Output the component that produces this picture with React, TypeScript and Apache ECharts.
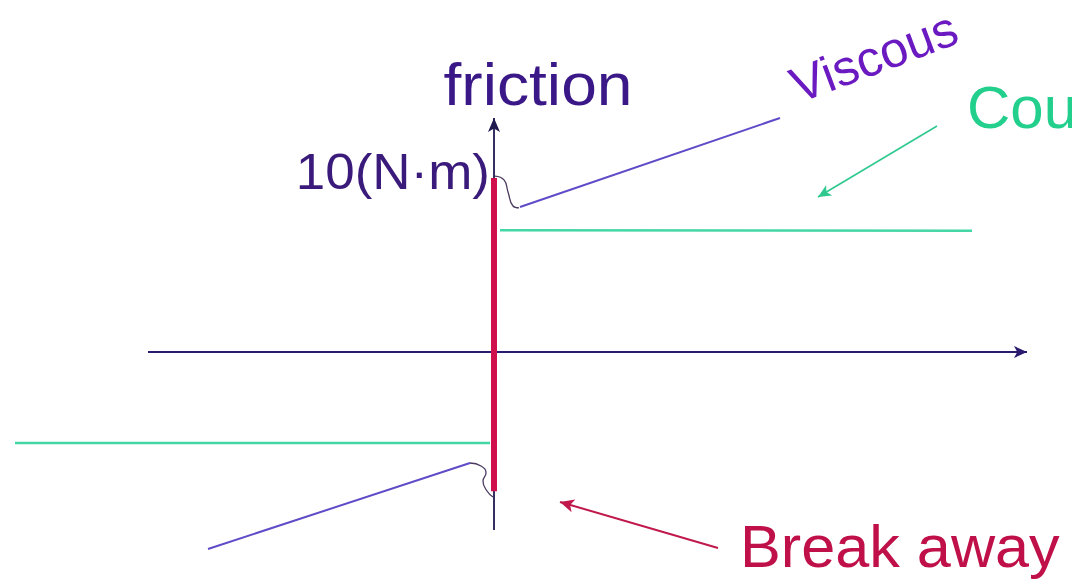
import React, { useEffect, useRef } from "react";
import * as echarts from "echarts";

// Velocity (x) and friction torque (y, N·m) values
const breakAwayV = [0, 0];
const breakAwayF = [10, -8];

const coulombPosV = [0.12, 9.56];
const coulombPosF = [7.0, 6.97];
const coulombNegV = [-9.58, -0.08];
const coulombNegF = [-5.23, -5.23];

const viscousPosV = [0.52, 5.72];
const viscousPosF = [8.33, 13.45];
const viscousNegV = [-5.72, -0.48];
const viscousNegF = [-11.32, -6.38];

const stictionPosV = [0.02, 0.2, 0.28, 0.38, 0.5];
const stictionPosF = [10.11, 9.89, 9.2, 8.39, 8.28];
const stictionNegV = [-0.48, -0.26, -0.16, -0.22, -0.14, -0.02];
const stictionNegF = [-6.38, -6.55, -6.95, -7.41, -7.99, -8.33];

const velocityAxisV = [-6.92, 10.66];
const frictionAxisF = [-10.23, 13.45];

const coulombArrowV = [8.86, 6.48];
const coulombArrowF = [12.99, 8.91];
const breakArrowV = [4.48, 1.32];
const breakArrowF = [-11.26, -8.62];

const yTickLabel = "10(N·m)";
const titleLabel = "friction";

const pts = (xs: number[], ys: number[]) => xs.map((x, i) => [x, ys[i]]);

const arrowSeries = (xs: number[], ys: number[], color: string, width: number, size: number[], z = 2) => ({
  type: "line",
  data: [],
  silent: true,
  z,
  markLine: {
    silent: true,
    z,
    symbol: ["none", "arrow"],
    symbolSize: size,
    label: { show: false },
    lineStyle: { color, width, type: "solid" },
    emphasis: { disabled: true },
    data: [[{ coord: [xs[0], ys[0]] }, { coord: [xs[1], ys[1]] }]],
  },
});

const lineSeries = (xs: number[], ys: number[], color: string, width: number, smooth = false, z = 3) => ({
  type: "line",
  data: pts(xs, ys),
  showSymbol: false,
  smooth,
  clip: false,
  silent: true,
  z,
  lineStyle: { color, width },
});

export default function App() {
  const ref = useRef<HTMLDivElement>(null);
  useEffect(() => {
    document.body.style.margin = "0";
    const chart = echarts.init(ref.current!, null, { renderer: "svg" });
    const font = "'Liberation Sans', Arial, sans-serif";
    chart.setOption({
      animation: false,
      backgroundColor: "#ffffff",
      grid: { left: 0, right: 0, top: 0, bottom: 0 },
      xAxis: { type: "value", min: -9.88, max: 11.56, show: false },
      yAxis: { type: "value", min: -13.276, max: 20.23, show: false },
      series: [
        arrowSeries(velocityAxisV, [0, 0], "#2a1a70", 2, [9, 13], 1),
        arrowSeries([0, 0], frictionAxisF, "#1e1a50", 1.8, [9, 14], 1),
        lineSeries(coulombPosV, coulombPosF, "#45d6a6", 2.5),
        lineSeries(coulombNegV, coulombNegF, "#45d6a6", 2.5),
        lineSeries(viscousPosV, viscousPosF, "#5e4bc8", 2),
        lineSeries(viscousNegV, viscousNegF, "#5e4bc8", 2),
        lineSeries(stictionPosV, stictionPosF, "#4a3a60", 1.3, true),
        lineSeries(stictionNegV, stictionNegF, "#4a3a60", 1.3, true),
        lineSeries(breakAwayV, breakAwayF, "#d0104c", 6, false, 10),
        arrowSeries(coulombArrowV, coulombArrowF, "#2fc98f", 1.6, [9, 13]),
        arrowSeries(breakArrowV, breakArrowF, "#c0184a", 2, [10, 14]),
      ],
      graphic: [
        { type: "text", x: 538, y: 84, scaleX: 1.07, style: { text: titleLabel, fill: "#3a1888", font: `60px ${font}`, textAlign: "center", textVerticalAlign: "middle" } },
        { type: "text", x: 490, y: 172, scaleX: 1.06, style: { text: yTickLabel, fill: "#3a1a7a", font: `50px ${font}`, textAlign: "right", textVerticalAlign: "middle" } },
        { type: "text", x: 874, y: 57, rotation: 0.36, style: { text: "Viscous", fill: "#6a1ac0", font: `50px ${font}`, textAlign: "center", textVerticalAlign: "middle" } },
        { type: "text", x: 967, y: 107, style: { text: "Coulomb", fill: "#22cf8c", font: `60px ${font}`, textAlign: "left", textVerticalAlign: "middle" } },
        { type: "text", x: 740, y: 546, scaleX: 1.02, style: { text: "Break away", fill: "#c0104a", font: `60px ${font}`, textAlign: "left", textVerticalAlign: "middle" } },
      ],
    });
    return () => chart.dispose();
  }, []);
  return <div ref={ref} style={{ position: "fixed", left: 0, top: 0, width: 1072, height: 583 }} />;
}
